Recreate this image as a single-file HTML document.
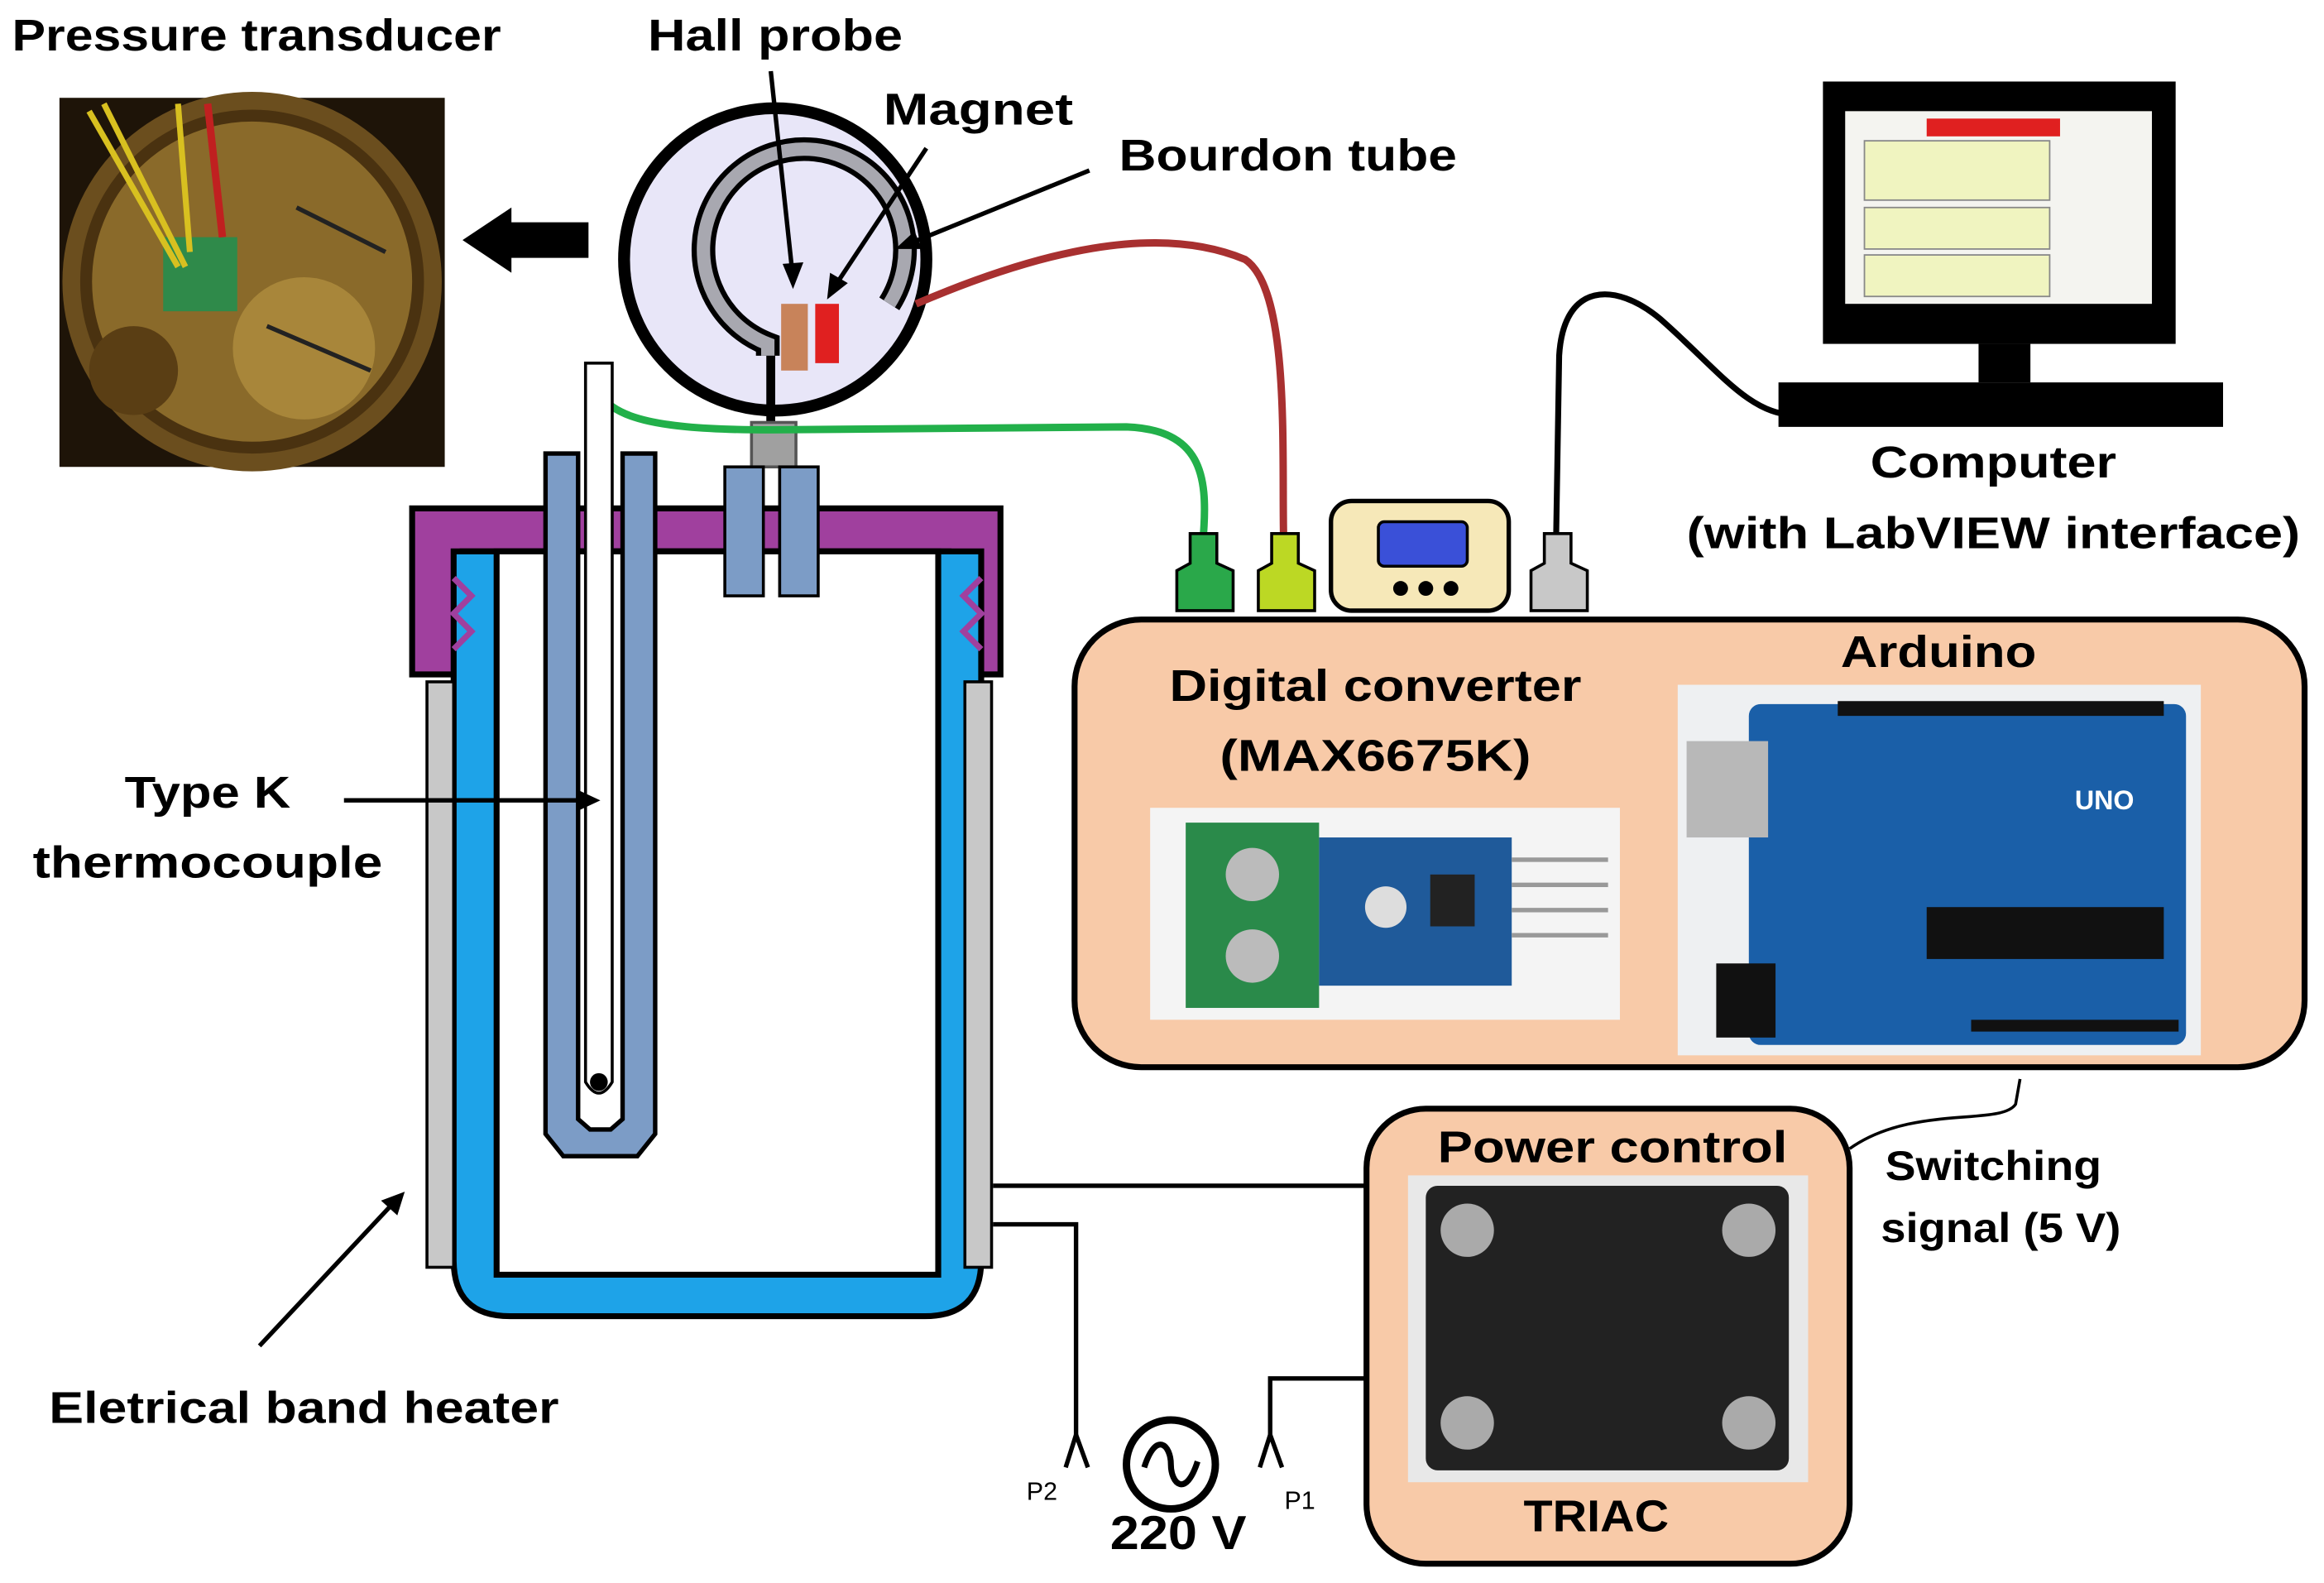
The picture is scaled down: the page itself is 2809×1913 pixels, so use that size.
<!DOCTYPE html>
<html><head><meta charset="utf-8"><style>html,body{margin:0;padding:0;background:#fff}svg{display:block}text{font-family:"Liberation Sans",sans-serif;font-weight:bold;fill:#000}</style></head>
<body>
<svg width="2809" height="1913" viewBox="0 0 1568 1068" xmlns="http://www.w3.org/2000/svg">
<rect width="1568" height="1068" fill="#fff"/>
<text x="8" y="34" font-size="30" textLength="330" lengthAdjust="spacingAndGlyphs">Pressure transducer</text>
<text x="437" y="34" font-size="30" textLength="172" lengthAdjust="spacingAndGlyphs">Hall probe</text>
<text x="596" y="84" font-size="30" textLength="128" lengthAdjust="spacingAndGlyphs">Magnet</text>
<text x="755" y="115" font-size="30" textLength="228" lengthAdjust="spacingAndGlyphs">Bourdon tube</text>
<!-- transducer photo -->
<rect x="40" y="66" width="260" height="249" fill="#1e1408"/>
<circle cx="170" cy="190" r="128" fill="#6b4e1e"/>
<circle cx="170" cy="190" r="112" fill="#8a6a2a" stroke="#4a3210" stroke-width="8"/>
<circle cx="205" cy="235" r="48" fill="#a8863a"/>
<circle cx="90" cy="250" r="30" fill="#5a3e14"/>
<rect x="110" y="160" width="50" height="50" fill="#2f8a4a"/>
<path d="M60 75 L120 180 M70 70 L125 180 M120 70 L128 170" stroke="#d8c020" stroke-width="4" fill="none"/>
<path d="M140 70 L150 160" stroke="#c02020" stroke-width="5"/>
<path d="M200 140 L260 170 M180 220 L250 250" stroke="#222" stroke-width="3"/>
<polygon points="312,162 345,140 345,150 397,150 397,174 345,174 345,184" fill="#000"/>
<!-- gauge -->
<circle cx="523" cy="175" r="102" fill="#e8e6f8" stroke="#000" stroke-width="8"/>
<path d="M518 240 L518 232 A68 68 0 1 1 600 205" fill="none" stroke="#000" stroke-width="16"/>
<path d="M518 240 L518 232 A68 68 0 1 1 600 205" fill="none" stroke="#a8a8b0" stroke-width="9"/>
<line x1="520" y1="240" x2="520" y2="285" stroke="#000" stroke-width="6"/>
<rect x="507" y="285" width="30" height="30" fill="#a0a0a0" stroke="#555" stroke-width="2"/>
<rect x="527" y="205" width="18" height="45" fill="#c8835a"/>
<rect x="550" y="205" width="16" height="40" fill="#e02020"/>
<line x1="520" y1="48" x2="535" y2="188" stroke="#000" stroke-width="3"/>
<polygon points="535,195 528,178 542,177" fill="#000"/>
<line x1="625" y1="100" x2="562" y2="195" stroke="#000" stroke-width="3"/>
<polygon points="558,202 560,184 572,191" fill="#000"/>
<line x1="735" y1="115" x2="612" y2="165" stroke="#000" stroke-width="3"/>
<polygon points="604,168 617,156 622,168" fill="#000"/>
<path d="M400 245 C398 280 430 290 520 290 L760 288 C810 290 815 320 812 360" fill="none" stroke="#22b04a" stroke-width="5"/>
<path d="M618 205 C700 170 780 150 840 175 C870 195 865 300 866 360" fill="none" stroke="#a83030" stroke-width="5"/>
<path d="M1050 360 L1052 240 C1055 190 1090 190 1120 215 C1160 250 1180 280 1212 280" fill="none" stroke="#000" stroke-width="4"/>
<!-- vessel -->
<path d="M278 343 H675 V455 H640 V372 H312 V455 H278 Z" fill="#a0409e" stroke="#000" stroke-width="4"/>
<path d="M306 372 H662 V850 Q662 888 624 888 H344 Q306 888 306 850 Z" fill="#1ea3e8" stroke="#000" stroke-width="4"/>
<path d="M306 390 L318 402 L306 414 L318 426 L306 438" fill="none" stroke="#a0409e" stroke-width="4"/>
<path d="M662 390 L650 402 L662 414 L650 426 L662 438" fill="none" stroke="#a0409e" stroke-width="4"/>
<path d="M335 372 H633 V860 H335 Z" fill="#fff" stroke="#000" stroke-width="4"/>
<rect x="288" y="460" width="18" height="395" fill="#c8c8c8" stroke="#000" stroke-width="2"/>
<rect x="651" y="460" width="18" height="395" fill="#c8c8c8" stroke="#000" stroke-width="2"/>
<path d="M368 306 H390 V755 L398 762 H412 L420 755 V306 H442 V765 L430 780 H380 L368 765 Z" fill="#7c9cc6" stroke="#000" stroke-width="3"/>
<path d="M395 245 H413 V730 Q404 745 395 730 Z" fill="#fff" stroke="#000" stroke-width="2"/>
<circle cx="404" cy="730" r="6" fill="#000"/>
<rect x="489" y="315" width="26" height="87" fill="#7c9cc6" stroke="#000" stroke-width="2"/>
<rect x="526" y="315" width="26" height="87" fill="#7c9cc6" stroke="#000" stroke-width="2"/>
<polygon points="803,360 821,360 821,380 832,385 832,412 794,412 794,385 803,380" fill="#2aa84a" stroke="#000" stroke-width="2"/>
<polygon points="858,360 876,360 876,380 887,385 887,412 849,412 849,385 858,380" fill="#bcd824" stroke="#000" stroke-width="2"/>
<rect x="898" y="338" width="120" height="74" rx="14" fill="#f6e8b8" stroke="#000" stroke-width="3"/>
<rect x="930" y="352" width="60" height="30" rx="4" fill="#3a50d8" stroke="#000" stroke-width="2"/>
<circle cx="945" cy="397" r="5" fill="#000"/><circle cx="962" cy="397" r="5" fill="#000"/><circle cx="979" cy="397" r="5" fill="#000"/>
<polygon points="1042,360 1060,360 1060,380 1071,385 1071,412 1033,412 1033,385 1042,380" fill="#c8c8c8" stroke="#000" stroke-width="2"/>
<rect x="1230" y="55" width="238" height="177" fill="#000"/>
<rect x="1245" y="75" width="207" height="130" fill="#f4f4f0"/>
<rect x="1300" y="80" width="90" height="12" fill="#e02020"/>
<rect x="1258" y="95" width="125" height="40" fill="#f0f4c0" stroke="#888"/>
<rect x="1258" y="140" width="125" height="28" fill="#f0f4c0" stroke="#888"/>
<rect x="1258" y="172" width="125" height="28" fill="#f0f4c0" stroke="#888"/>
<rect x="1335" y="232" width="35" height="26" fill="#000"/>
<rect x="1200" y="258" width="300" height="30" fill="#000"/>
<text x="1345" y="322" font-size="30" text-anchor="middle" textLength="166" lengthAdjust="spacingAndGlyphs">Computer</text>
<text x="1345" y="370" font-size="30" text-anchor="middle" textLength="414" lengthAdjust="spacingAndGlyphs">(with LabVIEW interface)</text>
<rect x="725" y="418" width="830" height="302" rx="45" fill="#f8caa8" stroke="#000" stroke-width="4"/>
<text x="928" y="473" font-size="30" text-anchor="middle" textLength="278" lengthAdjust="spacingAndGlyphs">Digital converter</text>
<text x="928" y="520" font-size="30" text-anchor="middle" textLength="210" lengthAdjust="spacingAndGlyphs">(MAX6675K)</text>
<text x="1308" y="450" font-size="30" text-anchor="middle" textLength="132" lengthAdjust="spacingAndGlyphs">Arduino</text>
<rect x="776" y="545" width="317" height="143" fill="#f4f4f4"/>
<rect x="800" y="555" width="90" height="125" fill="#2a8a4a"/>
<circle cx="845" cy="590" r="18" fill="#bbb"/><circle cx="845" cy="645" r="18" fill="#bbb"/>
<rect x="890" y="565" width="130" height="100" fill="#1f5a9a"/>
<circle cx="935" cy="612" r="14" fill="#ddd"/>
<rect x="965" y="590" width="30" height="35" fill="#222"/>
<path d="M1020 580 H1085 M1020 597 H1085 M1020 614 H1085 M1020 631 H1085" stroke="#999" stroke-width="3"/>
<rect x="1132" y="462" width="353" height="250" fill="#eef0f2"/>
<rect x="1180" y="475" width="295" height="230" rx="8" fill="#1a5fa8"/>
<rect x="1138" y="500" width="55" height="65" fill="#b8b8b8"/>
<rect x="1158" y="650" width="40" height="50" fill="#111"/>
<rect x="1300" y="612" width="160" height="35" fill="#111"/>
<path d="M1240 478 H1460" stroke="#111" stroke-width="10"/>
<path d="M1330 692 H1470" stroke="#111" stroke-width="8"/>
<text x="1400" y="546" font-size="18" style="fill:#fff">UNO</text>
<rect x="922" y="748" width="326" height="307" rx="40" fill="#f8caa8" stroke="#000" stroke-width="4"/>
<text x="1088" y="784" font-size="30" text-anchor="middle" textLength="236" lengthAdjust="spacingAndGlyphs">Power control</text>
<rect x="950" y="793" width="270" height="207" fill="#e8e8e8"/>
<rect x="962" y="800" width="245" height="192" rx="8" fill="#222"/>
<circle cx="990" cy="830" r="18" fill="#aaa"/><circle cx="1180" cy="830" r="18" fill="#aaa"/>
<circle cx="990" cy="960" r="18" fill="#aaa"/><circle cx="1180" cy="960" r="18" fill="#aaa"/>
<text x="1077" y="1033" font-size="30" text-anchor="middle" textLength="98" lengthAdjust="spacingAndGlyphs">TRIAC</text>
<path d="M1248 775 C1290 745 1350 760 1360 745 L1363 728" fill="none" stroke="#000" stroke-width="2"/>
<text x="1345" y="796" font-size="28" text-anchor="middle" textLength="146" lengthAdjust="spacingAndGlyphs">Switching</text>
<text x="1350" y="838" font-size="28" text-anchor="middle" textLength="162" lengthAdjust="spacingAndGlyphs">signal (5 V)</text>
<path d="M670 800 H922" stroke="#000" stroke-width="3" fill="none"/>
<path d="M670 826 H726 V968" stroke="#000" stroke-width="3" fill="none"/>
<path d="M922 930 H857 V968" stroke="#000" stroke-width="3" fill="none"/>
<path d="M719 990 L726 968 L734 990" stroke="#000" stroke-width="3" fill="none"/>
<path d="M850 990 L857 968 L865 990" stroke="#000" stroke-width="3" fill="none"/>
<circle cx="790" cy="988" r="30" fill="none" stroke="#000" stroke-width="5"/>
<path d="M772 990 C780 965 790 975 790 988 C790 1001 800 1011 808 986" fill="none" stroke="#000" stroke-width="4"/>
<text x="795" y="1045" font-size="32" text-anchor="middle" textLength="92" lengthAdjust="spacingAndGlyphs">220 V</text>
<text x="703" y="1012" font-size="17" text-anchor="middle" style="font-weight:normal">P2</text>
<text x="877" y="1018" font-size="17" text-anchor="middle" style="font-weight:normal">P1</text>
<text x="140" y="545" font-size="30" text-anchor="middle" textLength="112" lengthAdjust="spacingAndGlyphs">Type K</text>
<text x="140" y="592" font-size="30" text-anchor="middle" textLength="236" lengthAdjust="spacingAndGlyphs">thermocouple</text>
<line x1="232" y1="540" x2="392" y2="540" stroke="#000" stroke-width="3"/>
<polygon points="405,540 390,533 390,547" fill="#000"/>
<text x="205" y="960" font-size="30" text-anchor="middle" textLength="344" lengthAdjust="spacingAndGlyphs">Eletrical band heater</text>
<line x1="175" y1="908" x2="265" y2="812" stroke="#000" stroke-width="3"/>
<polygon points="273,804 268,820 257,810" fill="#000"/>
</svg>
</body></html>
